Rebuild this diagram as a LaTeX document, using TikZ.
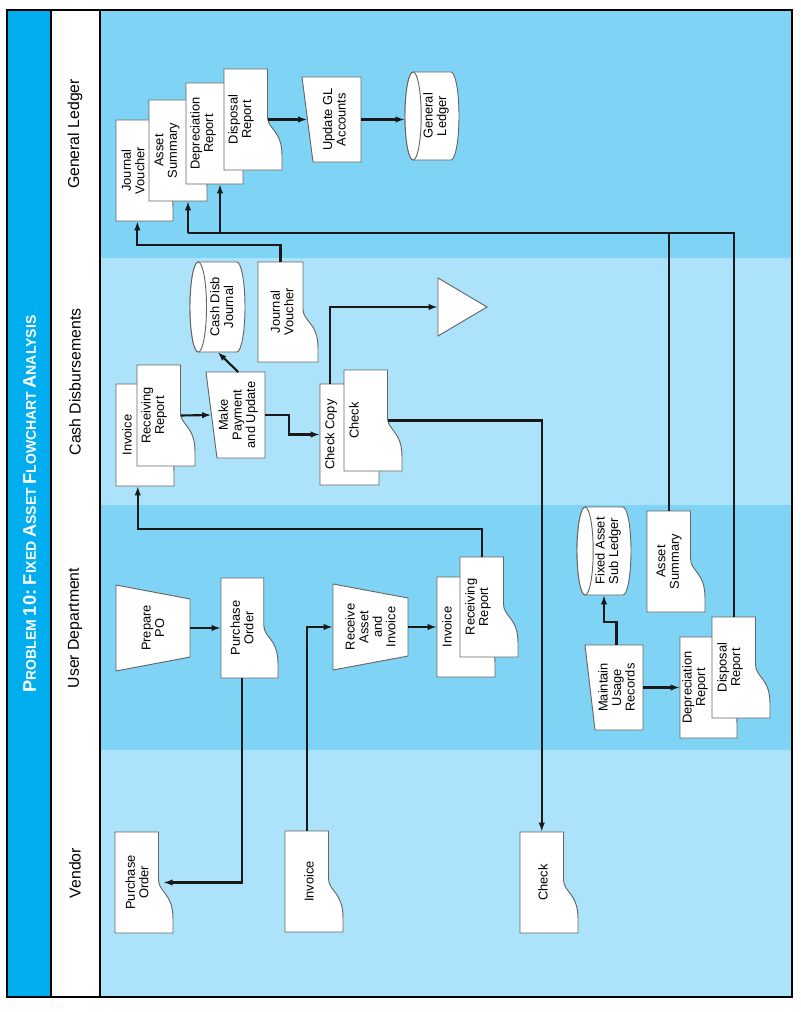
\documentclass[tikz,border=0pt]{standalone}
\usepackage{fontspec}
\setmainfont{Liberation Sans}
\usepackage{graphicx}
\usetikzlibrary{arrows.meta}
\definecolor{titleblue}{HTML}{00AEEF}
\definecolor{lanedark}{HTML}{7FD3F4}
\definecolor{lanelight}{HTML}{ADE3FA}
\tikzstyle{shp}=[draw=black!60,fill=white,line width=0.8pt]
\tikzstyle{box}=[inner sep=0pt,outer sep=0pt,draw=none]
\tikzstyle{lbl}=[rotate=90,align=center,font=\fontsize{11}{11.6}\selectfont]
\tikzstyle{lane}=[rotate=90,font=\fontsize{13.5}{15}\selectfont]
\tikzstyle{flow}=[draw=black!90,line width=1.8pt,-{Latex[length=2.8mm,width=1.9mm]}]
\tikzstyle{wire}=[draw=black!90,line width=1.8pt]
% document: name, x1,y1,x2,y2, text x, text
\newcommand{\docum}[7]{%
  \pgfmathsetmacro\dw{#4-#2}\pgfmathsetmacro\dh{#5-#3}\pgfmathsetmacro\dxr{#4-0.25*\dw}
  \filldraw[shp] (#2,#3) -- (\dxr,#3) -- (\dxr,{#3+0.47*\dh})
    .. controls (\dxr,{#3+0.6*\dh}) and (#4,{#3+0.6*\dh}) .. (#4,{#3+0.86*\dh})
    -- (#4,#5) -- (#2,#5) -- cycle;
  \node[box,minimum width={(\dxr-#2)*0.3mm},minimum height={\dh*0.3mm}] (#1) at ({(#2+\dxr)/2},{(#3+#5)/2}) {};
  \node[lbl] at (#6,{(#3+#5)/2}) {#7};}
% disk: name, x1,y1,x2,y2, text
\newcommand{\disk}[6]{%
  \pgfmathsetmacro\rx{0.15*(#4-#2)}\pgfmathsetmacro\ry{(#5-#3)/2}\pgfmathsetmacro\ym{(#3+#5)/2}
  \filldraw[shp] ({#2+\rx},#3) -- ({#4-\rx},#3) arc[start angle=-90,end angle=90,x radius=\rx,y radius=\ry]
    -- ({#2+\rx},#5) arc[start angle=90,end angle=270,x radius=\rx,y radius=\ry] -- cycle;
  \draw[shp] ({#2+\rx},\ym) ellipse[x radius=\rx,y radius=\ry];
  \node[box,minimum width={(#4-#2)*0.3mm},minimum height={(#5-#3)*0.3mm}] (#1) at ({(#2+#4)/2},\ym) {};
  \node[lbl] at ({(#2+#4)/2+\rx/2},\ym) {#6};}
% manual operation: name, x1,y1,x2,y2, inset, text
\newcommand{\manop}[7]{%
  \filldraw[shp] (#2,#3) -- (#4,{#3+#6}) -- (#4,{#5-#6}) -- (#2,#5) -- cycle;
  \node[box,minimum width={(#4-#2)*0.3mm},minimum height={(#5-#3)*0.3mm}] (#1) at ({(#2+#4)/2},{(#3+#5)/2}) {};
  \node[lbl] at (#1) {#7};}
% manual input: name, x1,y1,x2,y2, slant, text
\newcommand{\manin}[7]{%
  \filldraw[shp] (#2,#3) -- (#4,#3) -- (#4,#5) -- ({#2+#6},#5) -- cycle;
  \node[box,minimum width={(#4-#2-#6/2)*0.3mm},minimum height={(#5-#3)*0.3mm}] (#1) at ({(#2+#6/2+#4)/2},{(#3+#5)/2}) {};
  \node[lbl] at (#1) {#7};}
\newcommand{\fakesc}[2]{{\fontsize{15}{15}\selectfont #1}{\fontsize{11.5}{12}\selectfont #2}}

\begin{document}
\begin{tikzpicture}[x=0.3mm,y=-0.3mm]
\useasboundingbox (0,0) rectangle (800,1012);
% lanes
\fill[lanedark] (100,10) rectangle (792,258);
\fill[lanelight] (100,258) rectangle (792,505);
\fill[lanedark] (100,505) rectangle (792,750);
\fill[lanelight] (100,750) rectangle (792,997);
\fill[titleblue] (7,10) rectangle (51,997);
\fill[white] (51,10) rectangle (100,997);
\draw[line width=1pt] (51,10) -- (51,997);
\draw[line width=1.2pt] (100,10) -- (100,997);
\draw[line width=1.6pt] (7,10) rectangle (792,997);
\node[rotate=90,text=white,font=\bfseries] (title) at (29.5,504)
  {\resizebox{113mm}{!}{\fakesc{P}{ROBLEM} \fakesc{10:}{} \fakesc{F}{IXED} \fakesc{A}{SSET} \fakesc{F}{LOWCHART} \fakesc{A}{NALYSIS}}};
\node[lane] (lgl) at (75,134) {General Ledger};
\node[lane] (lcd) at (75,382) {Cash Disbursements};
\node[lane] (lud) at (75,628) {User Department};
\node[lane] (lve) at (75,873) {Vendor};

% general ledger
\docum{jvB}{116}{120}{173}{221}{133}{Journal\\Voucher}
\docum{asB}{149}{100}{207}{201}{167}{Asset\\Summary}
\docum{depB}{186}{83}{243}{184}{203}{Depreciation\\Report}
\docum{dispB}{224}{69}{282}{170}{241}{Disposal\\Report}
\manin{updGL}{302}{77}{361}{162}{11}{Update GL\\Accounts}
\disk{glDB}{405}{72}{459}{160}{General\\Ledger}

% cash disbursements
\disk{cdj}{190}{262}{245}{352}{Cash Disb\\Journal}
\docum{jvC}{258}{262}{318}{362}{282}{Journal\\Voucher}
\docum{invC}{116}{384}{174}{486}{127}{Invoice}
\docum{rrC}{137}{365}{195}{466}{154}{Receiving\\Report}
\manin{mpu}{206}{372}{265}{458}{11}{Make\\Payment\\and Update}
\docum{ccpy}{320}{384}{379}{485}{331}{Check Copy}
\docum{chkC}{344}{370}{402}{471}{354}{Check}
\filldraw[shp] (438,278) -- (487,307) -- (438,336) -- cycle;
\node[box,minimum width=49*0.3mm,minimum height=58*0.3mm] (file) at (462.5,307) {};

% user department
\manop{prepPO}{116}{585}{190}{671}{14}{Prepare\\PO}
\docum{poU}{221}{578}{278}{678}{242}{Purchase\\Order}
\manop{rai}{333}{584}{408}{670}{14}{Receive\\Asset\\and\\Invoice}
\docum{invU}{437}{577}{495}{677}{447}{Invoice}
\docum{rrU}{460}{557}{518}{657}{478}{Receiving\\Report}
\disk{fasl}{577}{507}{631}{595}{Fixed Asset\\Sub Ledger}
\docum{asU}{647}{511}{705}{612}{669}{Asset\\Summary}
\manin{mur}{585}{645}{643}{730}{10}{Maintain\\Usage\\Records}
\docum{depU}{680}{637}{737}{738}{695}{Depreciation\\Report}
\docum{dispU}{712}{617}{770}{718}{730}{Disposal\\Report}

% vendor
\docum{poV}{115}{832}{173}{933}{137}{Purchase\\Order}
\docum{invV}{285}{831}{343}{932}{309}{Invoice}
\docum{chkV}{520}{832}{578}{933}{543}{Check}

% flows
\coordinate (bus) at (188,233);
\coordinate (bus2) at (220,233);
\coordinate (cc) at (330,306);
\draw[flow] (dispB.east) -- (updGL.west);
\draw[flow] (updGL.east) -- (updGL.east -| glDB.west);
\draw[flow] (jvC.north) -- ++(0,-17) -| (jvB.south);
\draw[wire] (asU.north) |- (bus);
\draw[wire] (dispU.north) |- (bus);
\draw[flow] (bus) -- (bus |- asB.south);
\draw[flow] (bus2) -- (bus2 |- depB.south);
\draw[flow] (rrC.east) -- (mpu.west);
\draw[flow] (mpu.east) -- ++(24,0) |- (ccpy.west);
\draw[flow] (mpu.north) -- (cdj.south);
\draw[flow] (ccpy.north -| cc) |- (file.west);
\draw[flow] (chkC.east) -| (chkV.north);
\draw[flow] (rrU.north) -- ++(0,-28) -| (invC.south);
\draw[flow] (prepPO.east) -- (poU.west);
\draw[flow] (poU.south) |- ([xshift=1.4mm]poV.east);
\draw[flow] (invV.north) |- (rai.west);
\draw[flow] (rai.east) -- (invU.west);
\draw[flow] (mur.north) -- ++(0,-23) -| (fasl.south);
\draw[flow] (mur.east) -- (depU.west);
\end{tikzpicture}
\end{document}
